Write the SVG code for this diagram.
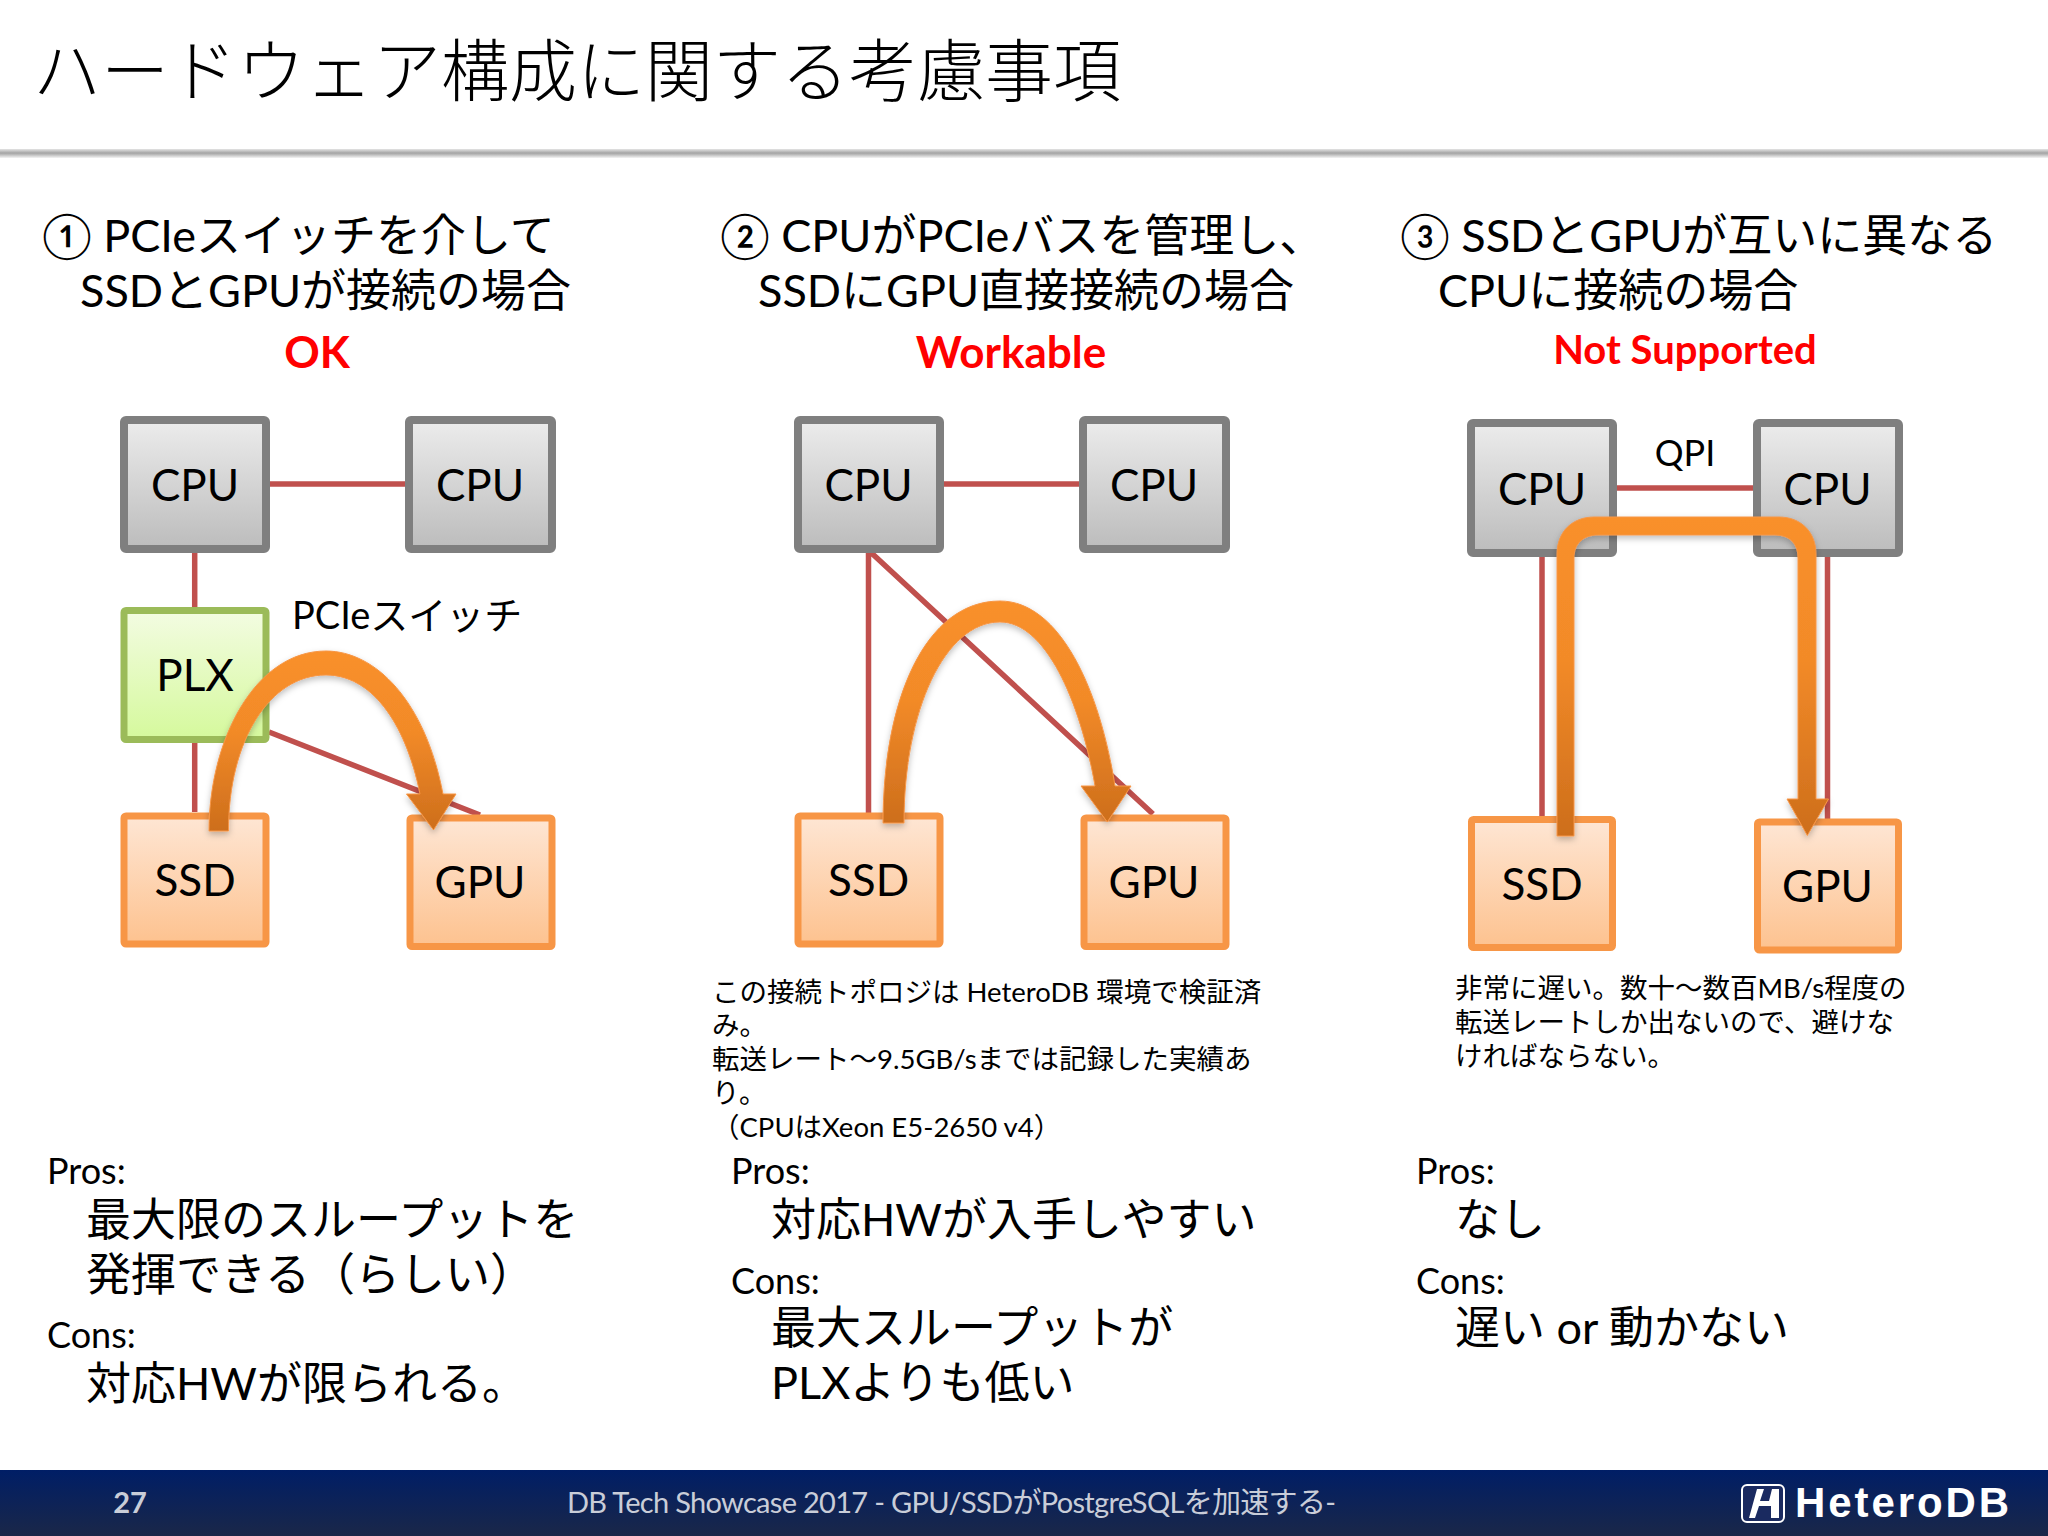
<svg xmlns="http://www.w3.org/2000/svg" width="2048" height="1536" viewBox="0 0 2048 1536">
<style>
text{font-family:Lato,"Noto Sans CJK JP",sans-serif;fill:#000}
.title{font-size:68px;font-family:"Noto Sans CJK JP",sans-serif;font-weight:300}
.head{font-size:45px}
.red{font-size:44px;font-weight:700;fill:#f00;text-anchor:middle}
.node{font-size:44px;text-anchor:middle}
.lab{font-size:36px}
.note{font-size:27.5px}
.pc{font-size:38px}
.body{font-size:45px}
.box{stroke-width:8;stroke-linejoin:round}
.cpu{fill:url(#gCpu);stroke:#7f7f7f}
.plx{fill:url(#gPlx);stroke:#9bbb59;stroke-width:7}
.dev{fill:url(#gDev);stroke:#f79646;stroke-width:7}
.wire{stroke:#c0504d;stroke-width:5.5;fill:none}
.flow{stroke:#f79646;stroke-width:1;filter:url(#sh)}
.foot{fill:#c9cdd8;font-size:29px}
</style>
<defs>
<linearGradient id="gCpu" x1="0" y1="0" x2="0" y2="1"><stop offset="0" stop-color="#ececec"/><stop offset="1" stop-color="#bcbcbc"/></linearGradient>
<linearGradient id="gPlx" x1="0" y1="0" x2="0" y2="1"><stop offset="0" stop-color="#f3fce2"/><stop offset="1" stop-color="#d5f99c"/></linearGradient>
<linearGradient id="gDev" x1="0" y1="0" x2="0" y2="1"><stop offset="0" stop-color="#fee6d4"/><stop offset="1" stop-color="#fdc28f"/></linearGradient>
<linearGradient id="gFlow" x1="0" y1="0" x2="0" y2="1"><stop offset="0" stop-color="#f9902a"/><stop offset="0.45" stop-color="#f28a28"/><stop offset="1" stop-color="#cd6e1c"/></linearGradient>
<linearGradient id="gFoot" x1="0" y1="0" x2="0" y2="1"><stop offset="0" stop-color="#001e66"/><stop offset="1" stop-color="#1a2748"/></linearGradient>
<linearGradient id="gRule" x1="0" y1="0" x2="0" y2="1"><stop offset="0" stop-color="#e4e4e4"/><stop offset="0.45" stop-color="#a4a4a4"/><stop offset="0.6" stop-color="#b8b8b8"/><stop offset="1" stop-color="#f4f4f4"/></linearGradient>
<filter id="sh" x="-10%" y="-10%" width="120%" height="120%"><feDropShadow dx="0" dy="3" stdDeviation="3" flood-color="#000" flood-opacity="0.25"/></filter>
</defs>
<rect width="2048" height="1536" fill="#fff"/>
<rect x="0" y="149" width="2048" height="9" fill="url(#gRule)"/>
<text class="title" x="33" y="96">ハードウェア構成に関する考慮事項</text>

<text class="head" x="42" y="252">① PCIeスイッチを介して</text>
<text class="head" x="80" y="307">SSDとGPUが接続の場合</text>
<text class="red" x="317" y="368">OK</text>
<text class="head" x="720" y="252">② CPUがPCIeバスを管理し、</text>
<text class="head" x="758" y="307">SSDにGPU直接接続の場合</text>
<text class="red" x="1011" y="368">Workable</text>
<text class="head" x="1400" y="252">③ SSDとGPUが互いに異なる</text>
<text class="head" x="1438" y="307">CPUに接続の場合</text>
<text class="red" x="1685" y="364" style="font-size:40px">Not Supported</text>

<g id="connectors">
<path class="wire" d="M270 484H405M194.700 553V607M194.700 742V812M269 732L480 815"/>
<path class="wire" d="M944 484H1079M868.500 553V813M871.500 553L1153 814"/>
<path class="wire" d="M1617 488H1753M1542 557V816M1827.500 557V819"/>
</g>

<g id="col1-cpu1"><rect class="box cpu" x="124" y="420" width="142" height="129" rx="2"/><text class="node" x="195" y="501">CPU</text></g>
<g id="col1-cpu2"><rect class="box cpu" x="409" y="420" width="143" height="129" rx="2"/><text class="node" x="480" y="501">CPU</text></g>
<g id="col1-plx"><rect class="box plx" x="124" y="610.500" width="142" height="129" rx="2"/><text class="node" x="195" y="691">PLX</text></g>
<g id="col1-ssd"><rect class="box dev" x="124" y="816" width="142" height="128" rx="2"/><text class="node" x="195" y="896">SSD</text></g>
<g id="col1-gpu"><rect class="box dev" x="410" y="818" width="142" height="128.500" rx="2"/><text class="node" x="480" y="898">GPU</text></g>
<text class="pc" x="292" y="629">PCIeスイッチ</text>

<g id="col2-cpu1"><rect class="box cpu" x="798" y="420" width="142" height="129" rx="2"/><text class="node" x="868.500" y="501">CPU</text></g>
<g id="col2-cpu2"><rect class="box cpu" x="1083" y="420" width="143" height="129" rx="2"/><text class="node" x="1154" y="501">CPU</text></g>
<g id="col2-ssd"><rect class="box dev" x="798" y="816" width="142" height="128" rx="2"/><text class="node" x="868.500" y="896">SSD</text></g>
<g id="col2-gpu"><rect class="box dev" x="1084" y="818" width="142" height="128.500" rx="2"/><text class="node" x="1154" y="898">GPU</text></g>

<g id="col3-cpu1"><rect class="box cpu" x="1471" y="423" width="142" height="130" rx="2"/><text class="node" x="1542" y="505">CPU</text></g>
<g id="col3-cpu2"><rect class="box cpu" x="1757" y="423" width="142" height="130" rx="2"/><text class="node" x="1827.500" y="505">CPU</text></g>
<g id="col3-ssd"><rect class="box dev" x="1471.500" y="819.500" width="141" height="128" rx="2"/><text class="node" x="1542" y="900">SSD</text></g>
<g id="col3-gpu"><rect class="box dev" x="1757.500" y="822" width="141" height="128" rx="2"/><text class="node" x="1827.500" y="902">GPU</text></g>
<text class="lab" x="1685" y="466" text-anchor="middle">QPI</text>

<g id="flows" fill="url(#gFlow)">
<path class="flow" d="M209 831C209 740 255 651 326 651C375 651 425 700 443 794H456L433.500 830L406.500 794H420C405 720 370 675 326 675C270 675 228.500 740 228.500 831Z"/>
<path class="flow" d="M883 823C883 700 925 601 1000 601C1060 601 1100 690 1115 786H1131L1107.300 822L1081 786H1095C1080 700 1045 622 1000 622C945 622 904 710 904 823Z"/>
<path class="flow" d="M1557 836V554C1557 532 1572 517 1594 517H1779C1801 517 1816 532 1816 554V799H1828.500L1807.300 835.500L1787 799H1798V558C1798 544 1790 535 1775 535H1598C1583 535 1574 544 1574 558V836Z"/>
</g>

<g class="note">
<text class="note" x="712" y="1002">この接続トポロジは HeteroDB 環境で検証済</text>
<text class="note" x="712" y="1035">み。</text>
<text class="note" x="712" y="1069">転送レート～9.5GB/sまでは記録した実績あ</text>
<text class="note" x="712" y="1103">り。</text>
<text class="note" x="712" y="1137">（CPUはXeon E5-2650 v4）</text>
<text class="note" x="1455" y="998">非常に遅い。数十～数百MB/s程度の</text>
<text class="note" x="1455" y="1032">転送レートしか出ないので、避けな</text>
<text class="note" x="1455" y="1066">ければならない。</text>
</g>

<text class="lab" x="47" y="1184">Pros:</text>
<text class="body" x="86" y="1236">最大限のスループットを</text>
<text class="body" x="86" y="1291">発揮できる（らしい）</text>
<text class="lab" x="47" y="1348">Cons:</text>
<text class="body" x="86" y="1400">対応HWが限られる。</text>

<text class="lab" x="731" y="1184">Pros:</text>
<text class="body" x="771" y="1236">対応HWが入手しやすい</text>
<text class="lab" x="731" y="1294">Cons:</text>
<text class="body" x="771" y="1344">最大スループットが</text>
<text class="body" x="771" y="1399">PLXよりも低い</text>

<text class="lab" x="1416" y="1184">Pros:</text>
<text class="body" x="1455" y="1236">なし</text>
<text class="lab" x="1416" y="1294">Cons:</text>
<text class="body" x="1455" y="1344">遅い or 動かない</text>

<rect x="0" y="1470" width="2048" height="66" fill="url(#gFoot)"/>
<text class="foot" x="130" y="1513" text-anchor="middle" font-weight="700">27</text>
<text class="foot" x="567" y="1513" textLength="769">DB Tech Showcase 2017 - GPU/SSDがPostgreSQLを加速する-</text>
<g id="logo">
<rect x="1742" y="1485" width="42" height="37" rx="5" fill="#1a2a60" stroke="#fff" stroke-width="2"/>
<path d="M1749 1518L1757 1489H1764L1760 1501H1769L1772 1489H1779V1518H1771V1506H1759L1755 1518Z" fill="#fff"/>
<text x="1795" y="1517" style="font-family:'Liberation Sans',sans-serif;font-weight:700;font-size:42px;fill:#fff" textLength="214">HeteroDB</text>
</g>
</svg>
